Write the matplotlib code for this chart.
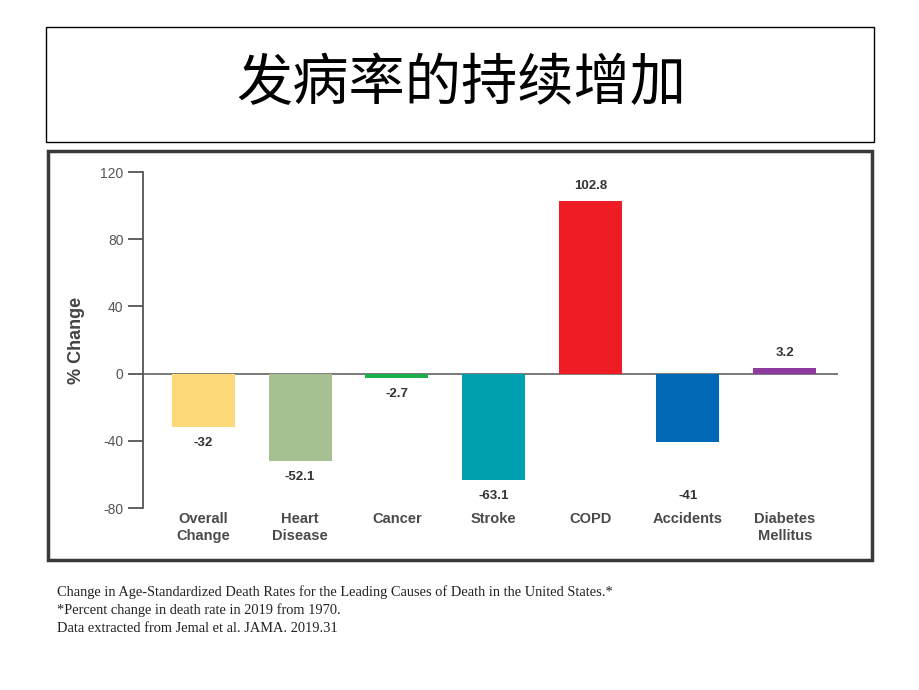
import matplotlib.pyplot as plt
from matplotlib.patches import Rectangle

# Data
categories = ['Overall\nChange', 'Heart\nDisease', 'Cancer', 'Stroke', 'COPD', 'Accidents', 'Diabetes\nMellitus']
values = [-32, -52.1, -2.7, -63.1, 102.8, -41, 3.2]
value_labels = ['-32', '-52.1', '-2.7', '-63.1', '102.8', '-41', '3.2']
colors = ['#FDD97A', '#A7C091', '#1BAE4B', '#00A0B0', '#EE1C25', '#0068B7', '#8E3A9E']
yticks = [-80, -40, 0, 40, 80, 120]

title = '发病率的持续增加'
caption = ['Change in Age-Standardized Death Rates for the Leading Causes of Death in the United States.*',
           '*Percent change in death rate in 2019 from 1970.',
           'Data extracted from Jemal et al. JAMA. 2019.31']

fig = plt.figure(figsize=(9.2, 6.9), dpi=100)
W, H = 920, 690

def box(x0, y0, x1, y1, lw, ec):
    fig.patches.append(Rectangle((x0 / W, 1 - y1 / H), (x1 - x0) / W, (y1 - y0) / H,
                                 transform=fig.transFigure, fill=False, lw=lw, ec=ec))

# title box and chart frame
box(46, 27, 874, 142, 1.0, 'black')
box(48, 151, 872, 560, 2.5, '#3a3a3a')

fig.text(461 / W, 1 - 84 / H, title, ha='center', va='center', fontsize=40.5,
         family=['Noto Sans CJK SC', 'DejaVu Sans'], color='black')

# main axes
ax = fig.add_axes([143 / W, 1 - 508 / H, 695 / W, 336 / H])
x = list(range(len(values)))
bars = ax.bar(x, values, width=0.65, color=colors)
ax.set_xlim(-0.62, 6.55)
ax.set_ylim(-80, 120)
ax.axhline(0, color='#707070', lw=1.3, zorder=0)

for s in ['top', 'right', 'bottom']:
    ax.spines[s].set_visible(False)
ax.spines['left'].set_color('#555555')
ax.spines['left'].set_linewidth(1.3)

ax.set_yticks(yticks)
ax.set_yticklabels([str(t) for t in yticks], family='Liberation Sans', fontsize=10, color='#555555')
ax.tick_params(axis='y', length=11, width=1.3, color='#555555', pad=3)
ax.set_xticks(x)
ax.set_xticklabels(categories, family='Liberation Sans', fontsize=10.5, fontweight='bold',
                   color='#4a4a4a', linespacing=1.25)
ax.tick_params(axis='x', length=0, pad=3)

ax.set_ylabel('% Change', family='Liberation Sans', fontsize=13, fontweight='bold',
              color='#444444', labelpad=11)

# value labels
for i, (v, lab) in enumerate(zip(values, value_labels)):
    if v >= 0:
        ax.annotate(lab, (i, v), xytext=(0, 11), textcoords='offset points', ha='center',
                    va='center', family='Liberation Sans', fontsize=9.5, fontweight='bold', color='#333333')
    else:
        # the Accidents label sits lower, level with the Stroke label
        yy = -72.8 if categories[i] == 'Accidents' else v
        off = 0 if categories[i] == 'Accidents' else -11.5
        ax.annotate(lab, (i, yy), xytext=(0, off), textcoords='offset points', ha='center',
                    va='center', family='Liberation Sans', fontsize=9.5, fontweight='bold', color='#333333')

# caption
for k, line in enumerate(caption):
    fig.text(57 / W, 1 - (592 + k * 18.5) / H, line, ha='left', va='center',
             family='Liberation Serif', fontsize=10.4, color='#222222')

fig.savefig('out.png', dpi=100, facecolor='white')
